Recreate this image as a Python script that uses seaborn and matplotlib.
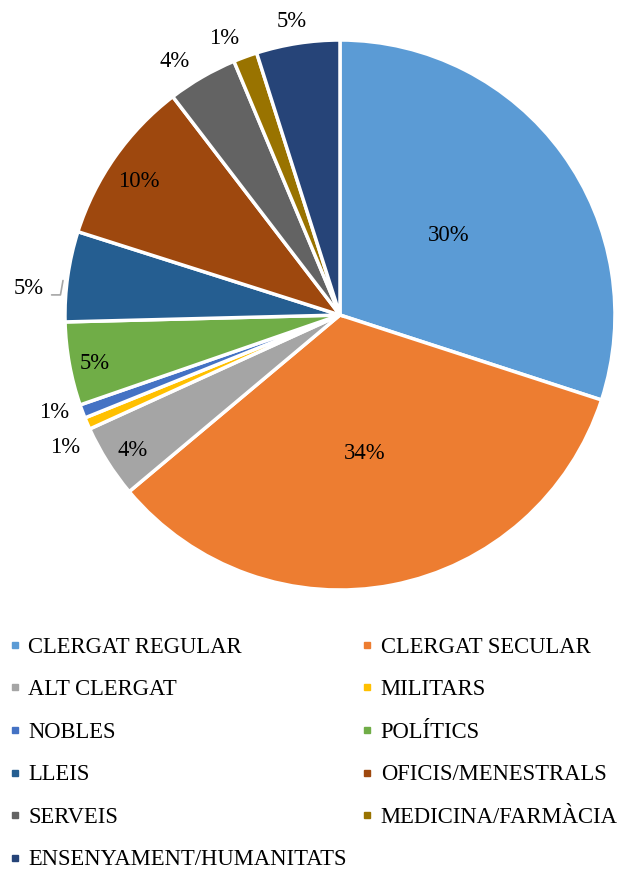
import numpy as np
import matplotlib.pyplot as plt
from matplotlib.lines import Line2D
import seaborn as sns

sns.set_style("white")
plt.rcParams['font.family'] = ['Liberation Serif', 'DejaVu Serif']
plt.rcParams['text.color'] = 'black'

# data (percentages)
categories = ["CLERGAT REGULAR", "CLERGAT SECULAR", "ALT CLERGAT", "MILITARS",
              "NOBLES", "POLÍTICS", "LLEIS", "OFICIS/MENESTRALS", "SERVEIS",
              "MEDICINA/FARMÀCIA", "ENSENYAMENT/HUMANITATS"]
values = [30.0, 33.9, 4.3, 0.7, 0.8, 4.9, 5.3, 9.7, 4.1, 1.4, 4.9]
colors = sns.color_palette(["#5B9BD5", "#ED7D31", "#A5A5A5", "#FFC000", "#4472C4",
                            "#70AD47", "#255E91", "#9E480E", "#636363", "#997300",
                            "#264478"])

# where each percentage label sits (radius, angle shift in degrees)
label_r = [0.49, 0.51, 0.90, 1.11, 1.10, 0.91, 1.08, 0.88, 1.10, 1.09, 1.08]
label_shift = [0, -1, 1, 2.5, -1.7, 1, 3, 1.5, 3, 2.6, 0.5]
fs = 16.3

fig = plt.figure(figsize=(6.34, 8.69), dpi=100)
ax = fig.add_axes([0.1025, 0.321, 0.8675, 0.633])

wedges, _ = ax.pie(values, colors=colors, startangle=90, counterclock=False,
                   wedgeprops=dict(edgecolor="white", linewidth=2.5))
ax.set_xlim(-1, 1)
ax.set_ylim(-1, 1)
ax.set_aspect("equal")

total = sum(values)
for i, w in enumerate(wedges):
    mid = (w.theta1 + w.theta2) / 2 + label_shift[i]
    x = label_r[i] * np.cos(np.radians(mid))
    y = label_r[i] * np.sin(np.radians(mid))
    txt = f"{values[i] / total * 100:.0f}%"
    if categories[i] == "LLEIS":
        m0 = np.radians((w.theta1 + w.theta2) / 2 + 1)
        ax.annotate(txt, xy=(1.015 * np.cos(m0), 1.015 * np.sin(m0)), xytext=(x, y),
                    ha="right", va="center", fontsize=fs, annotation_clip=False,
                    arrowprops=dict(arrowstyle="-", color="#A6A6A6", lw=1.2,
                                    shrinkA=3, shrinkB=0, relpos=(1, 0.2),
                                    connectionstyle="angle,angleA=0,angleB=80,rad=0"))
    else:
        ax.text(x, y, txt, ha="center", va="center", fontsize=fs, clip_on=False)

handles = [Line2D([], [], marker="s", linestyle="none", markersize=4.5,
                  markerfacecolor=c, markeredgecolor=c) for c in colors]
order = [0, 2, 4, 6, 8, 10, 1, 3, 5, 7, 9]
fig.legend([handles[k] for k in order], [categories[k] for k in order],
           ncol=2, loc="upper left", bbox_to_anchor=(0.0, 0.2775),
           frameon=False, fontsize=fs, handlelength=0.5, handletextpad=0.35,
           columnspacing=0.65, labelspacing=0.95, borderaxespad=0)

fig.savefig("out.png", dpi=100)
